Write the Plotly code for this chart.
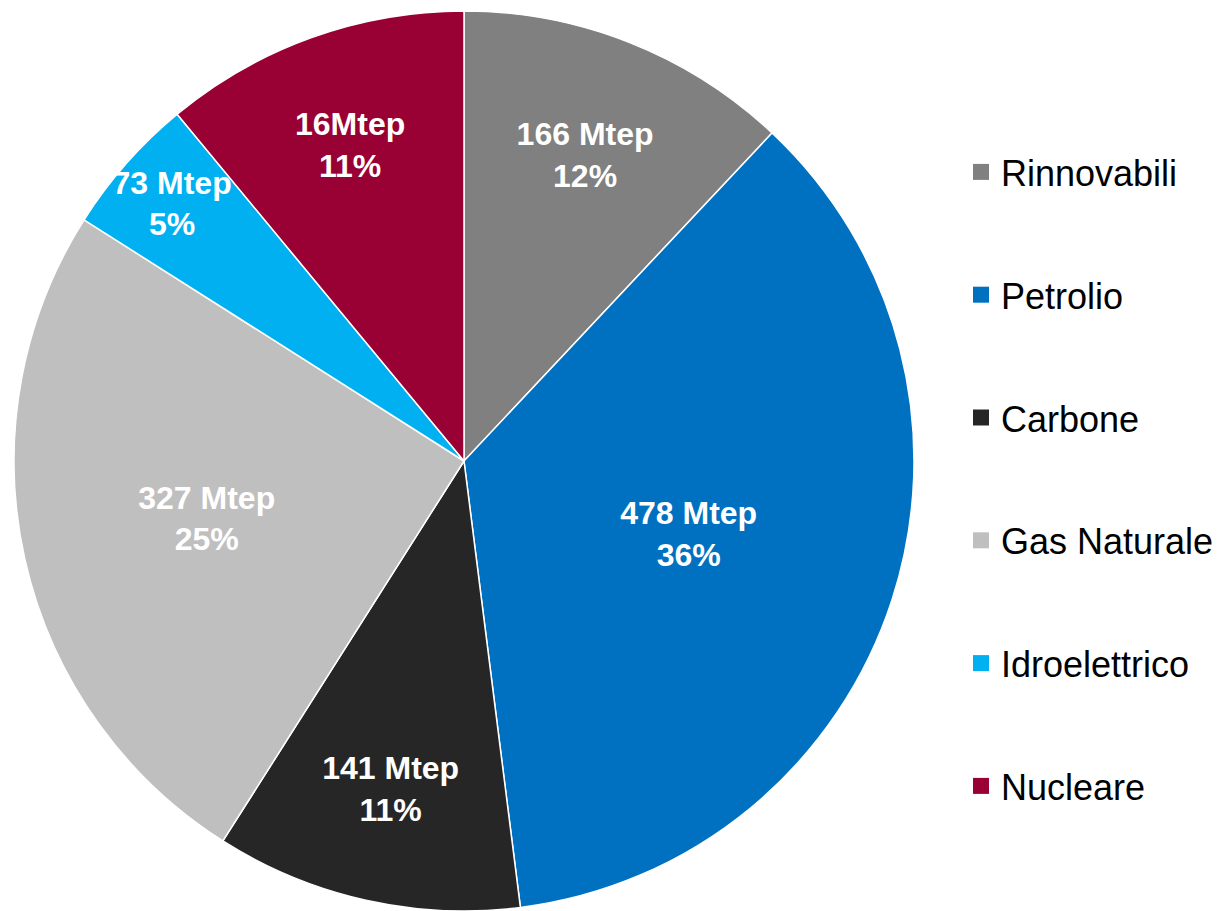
import plotly.graph_objects as go

categories = ["Rinnovabili", "Petrolio", "Carbone", "Gas Naturale", "Idroelettrico", "Nucleare"]
shares = [12, 36, 11, 25, 5, 11]
mtep_labels = ["166 Mtep", "478 Mtep", "141 Mtep", "327 Mtep", "73 Mtep", "16Mtep"]
colors = ["#808080", "#0070C0", "#262626", "#BFBFBF", "#00B0F0", "#990033"]

FONT = "Liberation Sans, Arial, sans-serif"

texts = [f"<b>{m}<br>{s}%</b>" for m, s in zip(mtep_labels, shares)]

fig = go.Figure()
fig.add_trace(go.Pie(
    labels=categories,
    values=shares,
    text=texts,
    textinfo="text",
    textposition="inside",
    insidetextorientation="horizontal",
    textfont=dict(family=FONT, size=32, color="white"),
    marker=dict(colors=colors, line=dict(color="white", width=1.5)),
    sort=False,
    direction="clockwise",
    rotation=0,
    showlegend=False,
    domain=dict(x=[12/1223, 916/1223], y=[0, 1 - 11/911]),
    hoverinfo="label+percent",
))

for i, (c, col) in enumerate(zip(categories, colors)):
    fig.add_trace(go.Scatter(
        x=[None], y=[None], mode="markers", name=c,
        marker=dict(symbol="square", size=22, color=col),
        legendgroup=f"g{i}", showlegend=True,
    ))

fig.update_layout(
    width=1223, height=911,
    autosize=False,
    margin=dict(l=0, r=0, t=0, b=0),
    paper_bgcolor="white", plot_bgcolor="white",
    xaxis=dict(visible=False), yaxis=dict(visible=False),
    uniformtext=dict(minsize=32, mode="show"),
    legend=dict(
        x=961/1223, xanchor="left", y=1 - 142/911, yanchor="top",
        font=dict(family=FONT, size=36, color="black"),
        tracegroupgap=73,
        itemwidth=30,
        bgcolor="rgba(0,0,0,0)",
    ),
)

fig.write_html("out.html", config={"displayModeBar": False},
               post_script="document.body.style.margin='0';")
